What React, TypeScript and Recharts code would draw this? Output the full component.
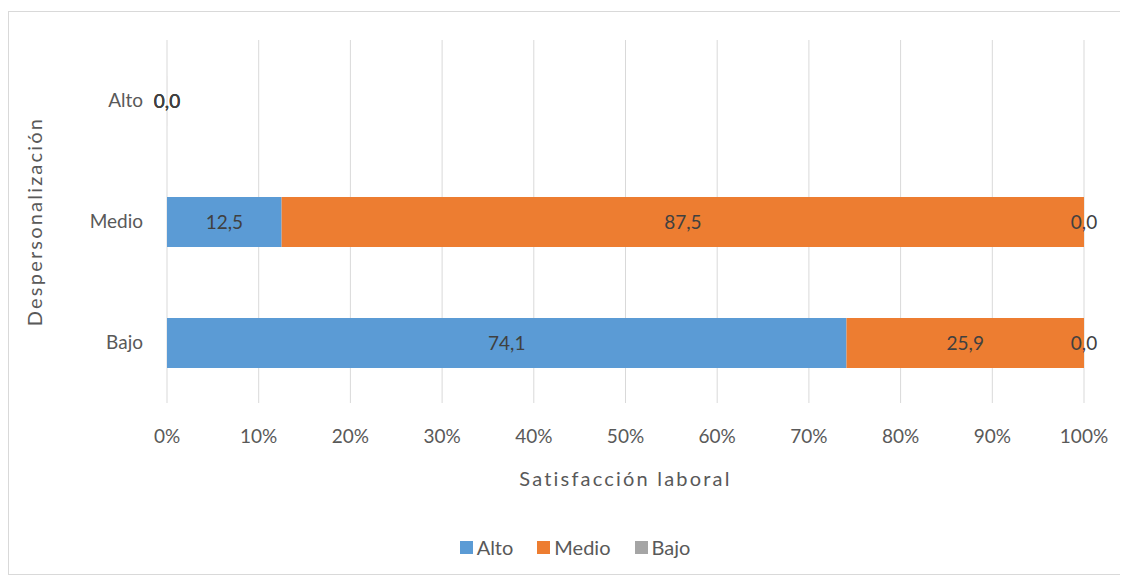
import { BarChart, Bar, XAxis, YAxis, CartesianGrid, Legend, LabelList } from 'recharts'

const CATEGORIES = ['Alto', 'Medio', 'Bajo']
const SERIES = ['Alto', 'Medio', 'Bajo']
const ALTO = [0, 12.5, 74.1]
const MEDIO = [0, 87.5, 25.9]
const BAJO = [0, 0, 0]
const TICKS = [0, 10, 20, 30, 40, 50, 60, 70, 80, 90, 100]

const BLUE = '#5B9BD5'
const ORANGE = '#ED7D31'
const GRAY = '#A5A5A5'
const TEXT = '#595959'
const FONT = 'Lato, "Open Sans", sans-serif'

const data = CATEGORIES.map((c, i) => ({ cat: c, alto: ALTO[i], medio: MEDIO[i], bajo: BAJO[i] }))

const fmt = (v: any) => Number(v).toFixed(1).replace('.', ',')

function YTitle({ viewBox }: any) {
  const x = viewBox.x + 25
  const y = viewBox.y + viewBox.height / 2
  return (
    <text x={x} y={y} transform={`rotate(-90 ${x} ${y})`} textAnchor="middle" dominantBaseline="central"
      fill={TEXT} fontSize={20} fontFamily={FONT} letterSpacing={2.2}>
      Despersonalización
    </text>
  )
}

function XTitle({ viewBox }: any) {
  return (
    <text x={viewBox.x + viewBox.width / 2} y={viewBox.y + 75} textAnchor="middle" dominantBaseline="central"
      fill={TEXT} fontSize={20} fontFamily={FONT} letterSpacing={2.2}>
      Satisfacción laboral
    </text>
  )
}

function LegendBox({ payload }: any) {
  const items = [...(payload || [])].sort((a: any, b: any) => SERIES.indexOf(a.value) - SERIES.indexOf(b.value))
  return (
    <div style={{ display: 'flex', justifyContent: 'center', gap: 24, fontFamily: FONT, fontSize: 20, color: TEXT, paddingLeft: 14 }}>
      {items.map((p: any) => (
        <div key={p.value} style={{ display: 'flex', alignItems: 'center', gap: 4 }}>
          <span style={{ width: 13, height: 13, background: p.color, display: 'inline-block' }} />
          {p.value}
        </div>
      ))}
    </div>
  )
}

export default function App() {
  const labelStyle = { fill: '#404040', fontSize: 19, fontFamily: FONT }
  return (
    <div style={{ marginTop: 3, width: 1120, height: 564, border: '1px solid #d9d9d9', boxSizing: 'border-box', background: '#fff' }}>
      <BarChart width={1118} height={562} data={data} layout="vertical" barSize={50}
        margin={{ top: 28, right: 43, left: 0, bottom: 71 }}>
        <CartesianGrid stroke="#d9d9d9" horizontal={false} />
        <XAxis type="number" domain={[0, 100]} ticks={TICKS} tickFormatter={(v) => `${v}%`}
          axisLine={false} tickLine={false} tickSize={0} tickMargin={27} height={100}
          tick={{ fill: TEXT, fontSize: 19, fontFamily: FONT }} label={<XTitle />} interval={0} />
        <YAxis type="category" dataKey="cat" width={158} axisLine={false} tickLine={false} tickSize={0} tickMargin={24}
          tick={{ fill: TEXT, fontSize: 19, fontFamily: FONT }} label={<YTitle />} />
        <Legend layout="horizontal" verticalAlign="middle" align="center" content={<LegendBox />}
          wrapperStyle={{ top: 523, left: 0, width: 1118 }} />
        <Bar dataKey="alto" name="Alto" stackId="s" fill={BLUE} minPointSize={0.01} isAnimationActive={false}>
          <LabelList dataKey="alto" position="center" formatter={fmt} style={labelStyle} />
        </Bar>
        <Bar dataKey="medio" name="Medio" stackId="s" fill={ORANGE} minPointSize={0.01} isAnimationActive={false}>
          <LabelList dataKey="medio" position="center" formatter={fmt} style={labelStyle} />
        </Bar>
        <Bar dataKey="bajo" name="Bajo" stackId="s" fill={GRAY} minPointSize={0.01} isAnimationActive={false}>
          <LabelList dataKey="bajo" position="center" formatter={fmt} style={labelStyle} />
        </Bar>
      </BarChart>
    </div>
  )
}
